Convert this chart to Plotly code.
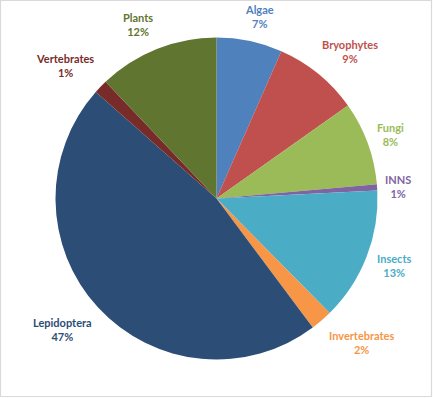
import math
import plotly.graph_objects as go

W, H = 433, 398

categories = ["Algae", "Bryophytes", "Fungi", "INNS", "Insects",
              "Invertebrates", "Lepidoptera", "Vertebrates", "Plants"]
values = [6.6, 8.6, 8.4, 0.6, 13.4, 2.2, 46.7, 1.4, 12.1]
colors = ["#4F81BD", "#C0504D", "#9BBB59", "#8064A2", "#4BACC6",
          "#F79646", "#2C4D75", "#772C2A", "#5F7530"]

# pie geometry (pixels)
cx, cy, R = 216.5, 198.5, 161.0
dom_x = [(cx - R) / W, (cx + R) / W]
dom_y = [(H - cy - R) / H, (H - cy + R) / H]

fig = go.Figure(go.Pie(
    labels=categories, values=values, sort=False, direction="clockwise",
    rotation=0, marker=dict(colors=colors, line=dict(width=0)),
    textinfo="none", hoverinfo="label+percent", showlegend=False,
    domain=dict(x=dom_x, y=dom_y),
))

FONT = "Lato"
FS = 11
total = sum(values)
annotations = []
cum = 0.0
gap = 11.0


def gx(u):
    return math.copysign(min(1.0, abs(u) / 0.35), u)


def gy(u):
    return math.copysign(min(1.0, (abs(u) / 0.6) ** 2), u)


for name, v, c in zip(categories, values, colors):
    mid = (cum + v / 2) / total * 2 * math.pi
    cum += v
    ux, uy = math.sin(mid), -math.cos(mid)
    pct = round(v / total * 100)
    w = len(name) * 5.0
    h = 28.0
    d = R + gap
    px = cx + ux * d + gx(ux) * w / 2
    py = cy + uy * d + gy(uy) * h / 2
    annotations.append(dict(
        x=px / W, y=1 - py / H, xref="paper", yref="paper",
        xanchor="center", yanchor="middle", showarrow=False,
        text=f"<b>{name}</b><br><b>{pct}%</b>", align="center",
        font=dict(family=FONT, size=FS, color=c),
    ))

fig.update_layout(
    width=W, height=H, margin=dict(l=0, r=0, t=0, b=0),
    paper_bgcolor="white", plot_bgcolor="white",
    annotations=annotations,
    shapes=[dict(type="rect", xref="paper", yref="paper",
                 x0=0.5 / W, x1=431.5 / W, y0=1 - 396.5 / H, y1=1 - 0.5 / H,
                 line=dict(color="#D9D9D9", width=1.2))],
)

fig.write_html("out.html")
